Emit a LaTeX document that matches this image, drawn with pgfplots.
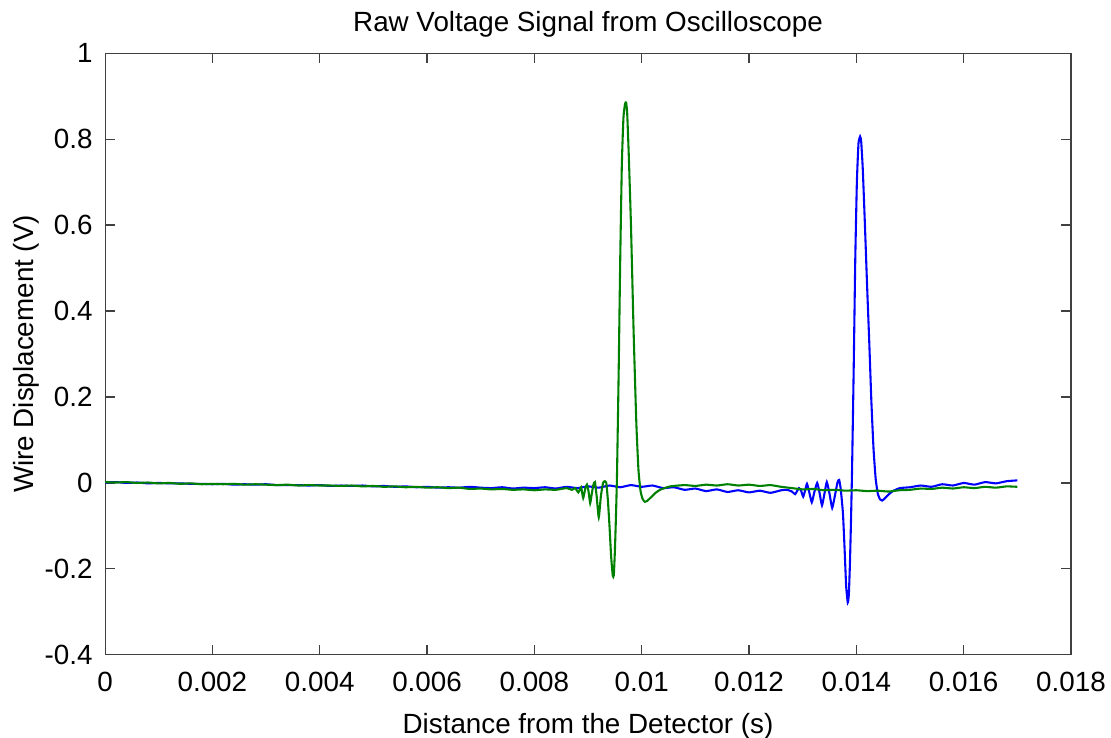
\documentclass[border=0pt]{standalone}
\usepackage{fontspec}
\setmainfont{Liberation Sans}
\usepackage{pgfplots}
\pgfplotsset{compat=1.18}
\usetikzlibrary{calc}

\definecolor{mblue}{rgb}{0,0,1}
\definecolor{mgreen}{rgb}{0,0.5,0}

% green trace (first pulse)
\pgfplotstableread{
x y
0 0.002
0.0002 0.001
0.0004 0.002
0.0006 0.000
0.0008 0.001
0.0010 -0.001
0.0012 0.000
0.0014 -0.002
0.0016 -0.001
0.0018 -0.003
0.0020 -0.002
0.0022 -0.003
0.0024 -0.002
0.0026 -0.004
0.0028 -0.003
0.0030 -0.004
0.0032 -0.005
0.0034 -0.004
0.0036 -0.006
0.0038 -0.005
0.0040 -0.006
0.0042 -0.006
0.0044 -0.007
0.0046 -0.006
0.0048 -0.008
0.0050 -0.007
0.0052 -0.009
0.0054 -0.008
0.0056 -0.010
0.0058 -0.009
0.0060 -0.011
0.0062 -0.010
0.0064 -0.012
0.0066 -0.011
0.0068 -0.014
0.0070 -0.013
0.0072 -0.015
0.0074 -0.014
0.0076 -0.016
0.0078 -0.015
0.0080 -0.017
0.0082 -0.015
0.0084 -0.016
0.0086 -0.012
0.00870 -0.016
0.00876 -0.012
0.00882 -0.022
0.00887 -0.010
0.00891 -0.035
0.00895 -0.012
0.00898 -0.004
0.00901 -0.020
0.00904 -0.047
0.00907 -0.025
0.00910 -0.004
0.00913 0.002
0.00916 -0.030
0.00920 -0.080
0.00924 -0.030
0.00928 0.000
0.00931 0.004
0.00934 0.000
0.00937 -0.040
0.00940 -0.100
0.00943 -0.170
0.00946 -0.215
0.00948 -0.215
0.00950 -0.160
0.00952 -0.080
0.00954 0.020
0.00957 0.250
0.00960 0.520
0.00963 0.740
0.00966 0.850
0.00969 0.882
0.00971 0.885
0.00973 0.860
0.00976 0.760
0.00980 0.600
0.00985 0.350
0.00990 0.140
0.00994 0.030
0.00998 -0.020
0.01002 -0.038
0.01006 -0.044
0.01010 -0.042
0.01016 -0.035
0.01025 -0.024
0.01034 -0.016
0.01053 -0.008
0.0108 -0.005
0.0110 -0.007
0.0112 -0.004
0.0114 -0.006
0.0116 -0.003
0.0118 -0.006
0.0120 -0.004
0.0122 -0.007
0.0124 -0.005
0.0126 -0.009
0.0128 -0.012
0.0130 -0.015
0.0132 -0.014
0.0134 -0.017
0.0136 -0.016
0.0138 -0.018
0.0140 -0.017
0.0142 -0.019
0.0144 -0.018
0.0146 -0.020
0.0148 -0.017
0.0150 -0.016
0.0152 -0.013
0.0154 -0.014
0.0156 -0.011
0.0158 -0.013
0.0160 -0.010
0.0162 -0.012
0.0164 -0.009
0.0166 -0.011
0.0168 -0.008
0.0170 -0.009
}\greentrace

% blue trace (second pulse)
\pgfplotstableread{
x y
0 0.001
0.0002 0.002
0.0004 0.000
0.0006 0.001
0.0008 -0.001
0.0010 0.000
0.0012 -0.001
0.0014 -0.001
0.0016 -0.002
0.0018 -0.002
0.0020 -0.003
0.0022 -0.002
0.0024 -0.004
0.0026 -0.003
0.0028 -0.004
0.0030 -0.003
0.0032 -0.005
0.0034 -0.005
0.0036 -0.005
0.0038 -0.006
0.0040 -0.005
0.0042 -0.007
0.0044 -0.006
0.0046 -0.007
0.0048 -0.006
0.0050 -0.008
0.0052 -0.007
0.0054 -0.009
0.0056 -0.008
0.0058 -0.010
0.0060 -0.009
0.0062 -0.011
0.0064 -0.010
0.0066 -0.011
0.0068 -0.009
0.0070 -0.011
0.0072 -0.012
0.0074 -0.010
0.0076 -0.013
0.0078 -0.011
0.0080 -0.012
0.0082 -0.010
0.0084 -0.013
0.0086 -0.009
0.0088 -0.012
0.0090 -0.008
0.0092 -0.011
0.0094 -0.006
0.0096 -0.010
0.0098 -0.005
0.0100 -0.009
0.0102 -0.006
0.0104 -0.012
0.0106 -0.010
0.0108 -0.016
0.0110 -0.013
0.0112 -0.019
0.0114 -0.015
0.0116 -0.021
0.0118 -0.017
0.0120 -0.022
0.0122 -0.018
0.0124 -0.023
0.0126 -0.017
0.01271 -0.016
0.01280 -0.020
0.01286 -0.026
0.01293 -0.012
0.01297 -0.018
0.01301 -0.032
0.01305 -0.015
0.01308 -0.002
0.01312 -0.020
0.01317 -0.045
0.01322 -0.020
0.01327 0.000
0.01331 -0.020
0.01336 -0.052
0.01341 -0.022
0.01345 0.002
0.01350 -0.025
0.01355 -0.058
0.01360 -0.030
0.01365 0.002
0.01368 0.007
0.01371 -0.015
0.01375 -0.070
0.01378 -0.150
0.01381 -0.240
0.01384 -0.278
0.01386 -0.260
0.01388 -0.190
0.01390 -0.090
0.01392 0.030
0.01395 0.260
0.01398 0.520
0.01401 0.700
0.01404 0.790
0.01407 0.806
0.01409 0.795
0.01412 0.730
0.01416 0.600
0.01420 0.460
0.01424 0.330
0.01428 0.190
0.01432 0.080
0.01436 0.010
0.01440 -0.025
0.01444 -0.038
0.01448 -0.041
0.01453 -0.036
0.01460 -0.027
0.01468 -0.019
0.01481 -0.012
0.0150 -0.010
0.0152 -0.006
0.0154 -0.009
0.0156 -0.003
0.0158 -0.006
0.0160 0.000
0.0162 -0.004
0.0164 0.002
0.0166 -0.001
0.0168 0.004
0.0170 0.006
}\bluetrace

\begin{document}
\begin{tikzpicture}
\begin{axis}[
  name=ax,
  scale only axis,
  width=347.5pt, height=216.5pt,
  xmin=0, xmax=0.018, ymin=-0.4, ymax=1,
  scaled x ticks=false, scaled y ticks=false,
  xtick={0,0.002,0.004,0.006,0.008,0.01,0.012,0.014,0.016,0.018},
  xticklabels={0,0.002,0.004,0.006,0.008,0.01,0.012,0.014,0.016,0.018},
  ytick={-0.4,-0.2,0,0.2,0.4,0.6,0.8,1},
  yticklabels={-0.4,-0.2,0,0.2,0.4,0.6,0.8,1},
  tick align=inside,
  major tick length=3.5pt,
  axis line style={black!75, line width=0.4pt},
  every tick/.style={black!75, line width=0.4pt},
  font=\fontsize{10}{12}\selectfont,
  title={Raw Voltage Signal from Oscilloscope},
  title style={yshift=-4pt},
  xlabel={Distance from the Detector (s)},
  ylabel={Wire Displacement (V)},
  xticklabel style={yshift=-2.5pt},
  yticklabel style={xshift=-1pt},
  xlabel style={yshift=-1pt},
  ylabel style={yshift=-5pt},
  /pgf/number format/assume math mode=true,
]
\addplot[mblue, line width=0.75pt, smooth, tension=0.3] table[x=x, y=y] {\bluetrace};
\addplot[mgreen, line width=0.75pt, smooth, tension=0.3] table[x=x, y=y] {\greentrace};
\end{axis}
\pgfresetboundingbox
\useasboundingbox ($(ax.south west)+(-37.8pt,-29.9pt)$) rectangle ($(ax.north east)+(14.4pt,19.1pt)$);
\end{tikzpicture}
\end{document}
